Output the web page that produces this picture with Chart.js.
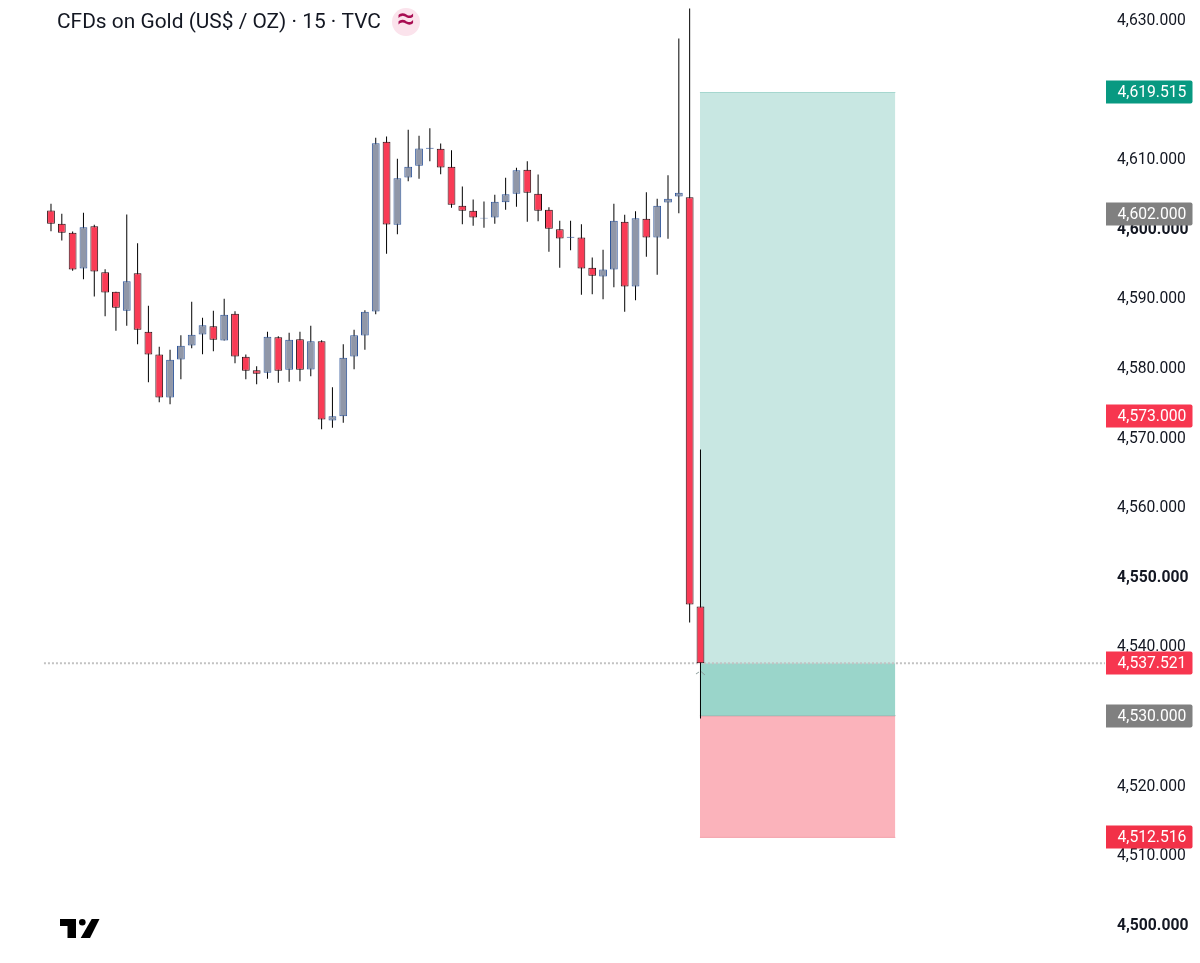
<!DOCTYPE html>
<html>
<head>
<meta charset="utf-8">
<title>CFDs on Gold</title>
<script src="https://cdn.jsdelivr.net/npm/chart.js@4"></script>
<style>
    html, body { margin: 0; padding: 0; background: #fff; }
    canvas { display: block; }
</style>
</head>
<body>
<canvas id="goldChart" width="1200" height="963"></canvas>
<script>
const chartTitle = 'CFDs on Gold (US$ / OZ) · 15 · TVC';

const opens = [4602.56, 4600.65, 4599.35, 4594.23, 4600.31, 4593.70, 4590.88, 4588.15, 4593.56, 4585.13,
    4581.88, 4575.70, 4581.16, 4583.17, 4584.75, 4585.95, 4583.89, 4587.72, 4581.54, 4579.63,
    4579.24, 4584.37, 4579.68, 4584.08, 4579.72, 4583.79, 4572.40, 4573.02, 4581.59, 4584.61,
    4588.05, 4612.43, 4600.50, 4607.30, 4608.98, 4611.42, 4611.42, 4608.83, 4603.23, 4602.51,
    4601.41, 4601.56, 4603.76, 4604.96, 4608.40, 4604.96, 4602.66, 4599.88, 4598.64, 4598.68,
    4594.33, 4593.08, 4594.09, 4600.93, 4591.65, 4601.37, 4598.68, 4603.71, 4604.57, 4604.47, 4545.68];
const highs = [4603.52, 4602.08, 4599.55, 4602.23, 4600.50, 4594.14, 4590.88, 4601.99, 4597.87, 4588.87,
    4582.98, 4582.55, 4584.66, 4589.44, 4587.15, 4588.15, 4589.87, 4588.10, 4581.88, 4580.20,
    4585.13, 4584.51, 4584.99, 4585.13, 4586.00, 4583.94, 4577.19, 4583.36, 4585.42, 4588.25,
    4613.00, 4613.19, 4609.98, 4614.15, 4613.29, 4614.39, 4612.19, 4611.23, 4606.01, 4604.14,
    4603.86, 4604.81, 4607.25, 4608.69, 4609.65, 4607.73, 4603.04, 4601.08, 4601.08, 4600.60,
    4595.81, 4596.91, 4603.52, 4601.94, 4602.47, 4605.20, 4604.24, 4607.64, 4627.27, 4631.58, 4568.23];
const lows = [4599.59, 4598.25, 4593.90, 4592.70, 4590.21, 4587.38, 4585.28, 4586.00, 4583.36, 4577.90,
    4575.03, 4574.74, 4578.34, 4582.79, 4581.93, 4582.36, 4583.89, 4580.63, 4578.34, 4577.62,
    4578.38, 4577.81, 4577.95, 4578.05, 4578.77, 4571.15, 4571.34, 4572.06, 4579.77, 4582.55,
    4587.67, 4596.34, 4599.16, 4606.78, 4607.11, 4609.65, 4607.78, 4602.95, 4600.60, 4600.36,
    4600.07, 4600.65, 4602.66, 4603.09, 4600.93, 4601.03, 4596.63, 4594.33, 4596.86, 4590.45,
    4590.54, 4589.83, 4591.55, 4588.01, 4589.68, 4595.91, 4593.32, 4598.49, 4602.18, 4543.38, 4529.59];
const closes = [4600.65, 4599.35, 4594.09, 4600.17, 4593.80, 4590.78, 4588.58, 4592.41, 4585.42, 4581.88,
    4575.70, 4581.11, 4583.12, 4584.70, 4586.09, 4583.98, 4587.58, 4581.59, 4579.53, 4579.10,
    4584.42, 4579.53, 4583.98, 4579.68, 4583.79, 4572.54, 4573.02, 4581.40, 4584.66, 4588.01,
    4612.23, 4600.55, 4607.21, 4608.83, 4611.47, 4611.56, 4608.74, 4603.38, 4602.51, 4601.56,
    4601.51, 4603.81, 4604.91, 4608.36, 4605.10, 4602.51, 4599.93, 4598.54, 4598.78, 4594.23,
    4593.18, 4594.09, 4601.08, 4591.65, 4601.46, 4598.68, 4603.23, 4604.24, 4605.10, 4545.97, 4537.52];

const yTicks = [4630, 4620, 4610, 4600, 4590, 4580, 4570, 4560, 4550, 4540, 4530, 4520, 4510, 4500];

// long position tool, in bar index and price
const boxStart = 59.95;
const boxEnd = 78;
const targetPrice = 4619.515;
const entryPrice = 4530;
const stopPrice = 4512.516;
const lastPrice = 4537.521;

const tagPrices = [4619.515, 4602, 4573, 4537.521, 4530, 4512.516];
const tagColors = ['#089981', '#808080', '#f7364f', '#f7364f', '#808080', '#f23148'];

const barPos = opens.map((_, i) => i);
const isUp = i => closes[i] >= opens[i];

const fmt = v => v.toLocaleString('en-US', { minimumFractionDigits: 3, maximumFractionDigits: 3 });

function levelBox(top, bottom, fill, edge) {
    return {
        type: 'line',
        data: [{ x: boxStart, y: top }, { x: boxEnd, y: top }],
        fill: { value: bottom },
        backgroundColor: fill,
        borderColor: edge,
        borderWidth: 1,
        pointRadius: 0,
        order: 5
    };
}

// the little caret under the last bar
const caret = document.createElement('canvas');
caret.width = 14;
caret.height = 12;
(function () {
    const c = caret.getContext('2d');
    c.strokeStyle = '#8a9a98';
    c.lineWidth = 1;
    c.beginPath();
    c.moveTo(3, 9);
    c.lineTo(6, 7);
    c.moveTo(8, 6.5);
    c.lineTo(12, 10);
    c.stroke();
})();

const labelsPlugin = {
    id: 'labelsPlugin',
    afterDraw(chart) {
        const ctx = chart.ctx;
        const y = chart.scales.y;
        ctx.save();

        // title and badge
        ctx.fillStyle = '#131722';
        ctx.font = '20.9px Roboto';
        ctx.textAlign = 'left';
        ctx.textBaseline = 'middle';
        ctx.fillText(chartTitle, 57, 23);
        ctx.beginPath();
        ctx.arc(406, 22, 14, 0, Math.PI * 2);
        ctx.fillStyle = '#fbe3ec';
        ctx.fill();
        ctx.fillStyle = '#a80d52';
        ctx.font = '32px Roboto';
        ctx.textAlign = 'center';
        ctx.fillText('≈', 406, 21);

        // price tags
        ctx.font = '15.7px Roboto';
        ctx.textAlign = 'left';
        tagPrices.forEach((p, i) => {
            const py = Math.round(y.getPixelForValue(p));
            ctx.fillStyle = tagColors[i];
            ctx.beginPath();
            ctx.roundRect(1106, py - 11.5, 86.5, 23, [0, 2, 2, 0]);
            ctx.fill();
            ctx.fillStyle = '#fff';
            ctx.fillText(fmt(p), 1117.5, py + 1);
        });

        // logo
        ctx.fillStyle = '#000';
        ctx.fill(new Path2D('M60 919H76V938H67.5V926H60Z'));
        ctx.fill(new Path2D('M91.7 919H99.5L90 938H80.7Z'));
        ctx.beginPath();
        ctx.arc(82.3, 922.3, 3.3, 0, Math.PI * 2);
        ctx.fill();
        ctx.restore();
    }
};

new Chart(document.getElementById('goldChart').getContext('2d'), {
    type: 'bar',
    data: {
        datasets: [
            {
                // bodies
                data: barPos.map(i => ({ x: i, y: [opens[i], closes[i]] })),
                backgroundColor: barPos.map(i => isUp(i) ? '#9097a8' : '#f93b55'),
                borderColor: barPos.map(i => isUp(i) ? '#2f5599' : '#2a0d12'),
                borderWidth: 1,
                borderSkipped: false,
                inflateAmount: 0,
                barThickness: 7.8,
                grouped: false,
                order: 1
            },
            {
                // wicks
                data: barPos.map(i => ({ x: i, y: [lows[i], highs[i]] })),
                backgroundColor: '#000',
                borderWidth: 0,
                inflateAmount: 0,
                barThickness: 1,
                grouped: false,
                order: 2
            },
            {
                type: 'line',
                data: [{ x: -0.65, y: lastPrice }, { x: 97.4, y: lastPrice }],
                borderColor: '#c2c2c2',
                borderWidth: 2,
                borderDash: [2, 2],
                pointRadius: 0,
                order: 3
            },
            {
                type: 'line',
                data: [{ x: boxStart, y: lastPrice - 1.1 }],
                showLine: false,
                pointStyle: caret,
                order: 3
            },
            levelBox(lastPrice, entryPrice, '#9ad5ca', 'rgba(0,0,0,0)'),
            levelBox(entryPrice, stopPrice, '#fbb3bb', '#808080'),
            levelBox(targetPrice, lastPrice, '#c8e7e2', '#a6d8d0'),
            {
                type: 'line',
                data: [{ x: boxStart, y: stopPrice }, { x: boxEnd, y: stopPrice }],
                borderColor: '#f4a0aa',
                borderWidth: 1,
                pointRadius: 0,
                order: 4
            }
        ]
    },
    options: {
        responsive: false,
        animation: false,
        devicePixelRatio: 1,
        layout: { padding: 0, autoPadding: false },
        scales: {
            x: {
                type: 'linear',
                display: false,
                offset: false,
                min: -4.71,
                max: 97.37
            },
            // marks sit on this one
            y: {
                display: false,
                min: 4494.47,
                max: 4632.80
            },
            // price labels, a touch lower than the marks as on the original
            yLabels: {
                position: 'right',
                min: 4494.69,
                max: 4633.02,
                grid: { display: false, drawTicks: false },
                border: { display: false },
                afterBuildTicks(axis) {
                    axis.ticks = yTicks.map(v => ({ value: v }));
                },
                afterFit(axis) {
                    axis.width = 95;
                    axis.paddingTop = 0;
                    axis.paddingBottom = 0;
                },
                ticks: {
                    autoSkip: false,
                    padding: 12,
                    crossAlign: 'near',
                    color: '#131722',
                    font: ctx => ({
                        family: 'Roboto',
                        size: 15.7,
                        weight: ctx.tick && ctx.tick.value % 50 === 0 ? 'bold' : 'normal'
                    }),
                    callback: v => fmt(v)
                }
            }
        },
        plugins: {
            legend: { display: false },
            tooltip: { enabled: false }
        }
    },
    plugins: [labelsPlugin]
});
</script>
</body>
</html>
